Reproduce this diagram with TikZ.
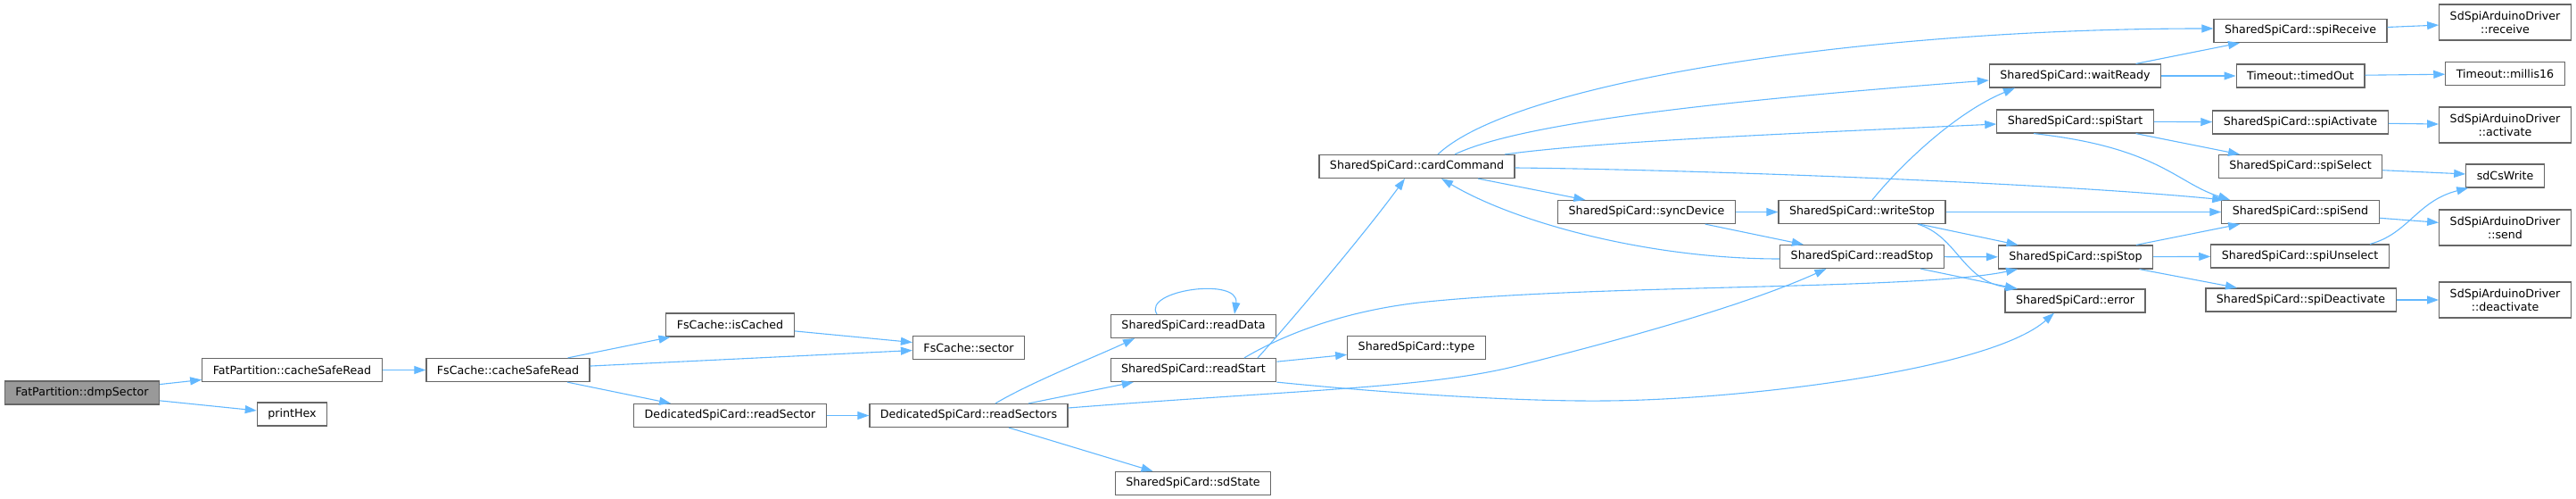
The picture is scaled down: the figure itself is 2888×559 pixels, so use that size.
\documentclass[tikz,border=0pt]{standalone}
\usepackage{fontspec}
\setmainfont{DejaVu Sans}
\usetikzlibrary{arrows.meta, calc}
\definecolor{edgeblue}{HTML}{63B8FF}
\definecolor{boxgray}{HTML}{666666}
\definecolor{rootgray}{HTML}{999999}

\begin{document}
\begin{tikzpicture}[
    x=1pt, y=-1pt,
    func/.style={rectangle, draw=boxgray, fill=white, line width=1.2pt, minimum height=26pt, inner xsep=12pt, inner ysep=0pt, font=\fontsize{12.66}{15}\selectfont},
    root/.style={func, fill=rootgray},
    twoline/.style={func, align=center, minimum height=40pt},
    arrow/.style={-{Triangle[length=13pt, width=9pt]}, edgeblue, line width=1.1pt}
]
\useasboundingbox (0,0) rectangle (2888,559);

\node[root] (dmpsector) at (92,440) {FatPartition::dmpSector};
\node[func] (fatread) at (327.5,414.5) {FatPartition::cacheSafeRead};
\node[func] (printhex) at (327.5,464) {printHex};
\node[func] (cacheread) at (569.5,414.5) {FsCache::cacheSafeRead};
\node[func] (iscached) at (818.5,364) {FsCache::isCached};
\node[func] (sector) at (1086,389.5) {FsCache::sector};
\node[func] (readsector) at (818.5,465.5) {DedicatedSpiCard::readSector};
\node[func] (readsectors) at (1086,465.5) {DedicatedSpiCard::readSectors};
\node[func] (readdata) at (1338,365.5) {SharedSpiCard::readData};
\node[func] (readstart) at (1338,414.5) {SharedSpiCard::readStart};
\node[func] (cardtype) at (1588,389.5) {SharedSpiCard::type};
\node[func] (sdstate) at (1337.5,541.5) {SharedSpiCard::sdState};
\node[func] (cardcmd) at (1588.5,186.5) {SharedSpiCard::cardCommand};
\node[func] (syncdev) at (1846,237.5) {SharedSpiCard::syncDevice};
\node[func] (writestop) at (2087.5,237.5) {SharedSpiCard::writeStop};
\node[func] (readstop) at (2087.5,287.5) {SharedSpiCard::readStop};
\node[func] (waitready) at (2326.5,85) {SharedSpiCard::waitReady};
\node[func] (spistart) at (2326.5,136) {SharedSpiCard::spiStart};
\node[func] (spistop) at (2327,288) {SharedSpiCard::spiStop};
\node[func] (carderr) at (2326.5,337) {SharedSpiCard::error};
\node[func] (spirecv) at (2579,34.5) {SharedSpiCard::spiReceive};
\node[func] (timedout) at (2579,85) {Timeout::timedOut};
\node[func] (spiact) at (2579,137) {SharedSpiCard::spiActivate};
\node[func] (spisel) at (2579,186.5) {SharedSpiCard::spiSelect};
\node[func] (spisend) at (2579,237.5) {SharedSpiCard::spiSend};
\node[func] (spiunsel) at (2578.5,287) {SharedSpiCard::spiUnselect};
\node[func] (spideact) at (2579.5,336) {SharedSpiCard::spiDeactivate};
\node[twoline] (drvrecv) at (2808.5,25) {SdSpiArduinoDriver\\::receive};
\node[func] (millis) at (2808.5,82.5) {Timeout::millis16};
\node[twoline] (drvact) at (2808.5,140) {SdSpiArduinoDriver\\::activate};
\node[func] (cswrite) at (2808.5,197) {sdCsWrite};
\node[twoline] (drvsend) at (2808.5,255) {SdSpiArduinoDriver\\::send};
\node[twoline] (drvdeact) at (2808.5,336) {SdSpiArduinoDriver\\::deactivate};

\draw[arrow] (dmpsector) -- (fatread);
\draw[arrow] (dmpsector) -- (printhex);
\draw[arrow] (fatread) -- (cacheread);
\draw[arrow] (cacheread) -- (iscached);
\draw[arrow] (cacheread) -- (sector);
\draw[arrow] (cacheread) -- (readsector);
\draw[arrow] (iscached) -- (sector);
\draw[arrow] (readsector) -- (readsectors);
\draw[arrow] (readsectors) -- (readstart);
\draw[arrow] (readsectors) -- (sdstate);
\draw[arrow] (readstart) -- (cardtype);
\draw[arrow] (cardcmd) -- (syncdev);
\draw[arrow] (syncdev) -- (writestop);
\draw[arrow] (syncdev) -- (readstop);
\draw[arrow] (writestop) -- (spisend);
\draw[arrow] (writestop) -- (spistop);
\draw[arrow] (readstop) -- (spistop);
\draw[arrow] (readstop) -- (carderr);
\draw[arrow] (waitready) -- (spirecv);
\draw[arrow] (waitready) -- (timedout);
\draw[arrow] (timedout) -- (millis);
\draw[arrow] (spirecv) -- (drvrecv);
\draw[arrow] (spistart) -- (spiact);
\draw[arrow] (spistart) -- (spisel);
\draw[arrow] (spiact) -- (drvact);
\draw[arrow] (spisel) -- (cswrite);
\draw[arrow] (spisend) -- (drvsend);
\draw[arrow] (spistop) -- (spisend);
\draw[arrow] (spistop) -- (spiunsel);
\draw[arrow] (spistop) -- (spideact);
\draw[arrow] (spideact) -- (drvdeact);

\draw[arrow] ($(readsectors.north)+(30,0)$) .. controls (1156,428) and (1232,398) .. ($(readdata.south)+(-66,0)$);
\draw[arrow] ($(readdata.north)+(-41,0)$) .. controls (1280,325) and (1390,310) .. ($(readdata.north)+(46,0)$);
\draw[arrow] ($(readstart.north)+(72,0)$) .. controls (1440,368) and (1530,262) .. ($(cardcmd.south)+(-13.5,0)$);
\draw[arrow] ($(readstart.north)+(57,0)$) .. controls (1430,380) and (1500,348) .. (1600,338) .. controls (1800,318) and (2150,325) .. ($(spistop.south)+(-65,0)$);
\draw[arrow] ($(readsectors.east)+(0,-8.5)$) .. controls (1450,437) and (1600,435) .. (1700,410) .. controls (1800,385) and (1950,345) .. ($(readstop.south)+(-40,0)$);
\draw[arrow] (readstart.south east) .. controls (1550,440) and (1700,450) .. (1800,449) .. controls (1950,448) and (2230,415) .. ($(carderr.south)+(-23.5,0)$);
\draw[arrow] ($(cardcmd.north)+(23.5,0)$) .. controls (1700,90) and (2100,32) .. ($(spirecv.west)+(0,-2.5)$);
\draw[arrow] ($(cardcmd.north)+(42.5,0)$) .. controls (1700,140) and (1900,115) .. ($(waitready.west)+(0,5)$);
\draw[arrow] ($(cardcmd.north)+(98.5,0)$) .. controls (1800,158) and (2000,150) .. ($(spistart.west)+(0,3)$);
\draw[arrow] ($(cardcmd.east)+(0,1.5)$) .. controls (1900,190) and (2300,205) .. ($(spisend.north west)+(3,0)$);
\draw[arrow] ($(readstop.west)+(0,2.5)$) .. controls (1850,290) and (1700,250) .. ($(cardcmd.south)+(27.5,0)$);
\draw[arrow] ($(writestop.north)+(11.5,0)$) .. controls (2135,180) and (2195,125) .. ($(waitready.south)+(-67.5,0)$);
\draw[arrow] ($(writestop.south)+(62.5,0)$) .. controls (2195,265) and (2200,315) .. ($(carderr.north)+(-64.5,0)$);
\draw[arrow] ($(spistart.south)+(-46.5,0)$) .. controls (2420,165) and (2440,205) .. ($(spisend.north)+(-79,0)$);
\draw[arrow] ($(spiunsel.north)+(78.5,0)$) .. controls (2700,262) and (2710,225) .. ($(cswrite.south west)+(3,0)$);

\end{tikzpicture}
\end{document}
